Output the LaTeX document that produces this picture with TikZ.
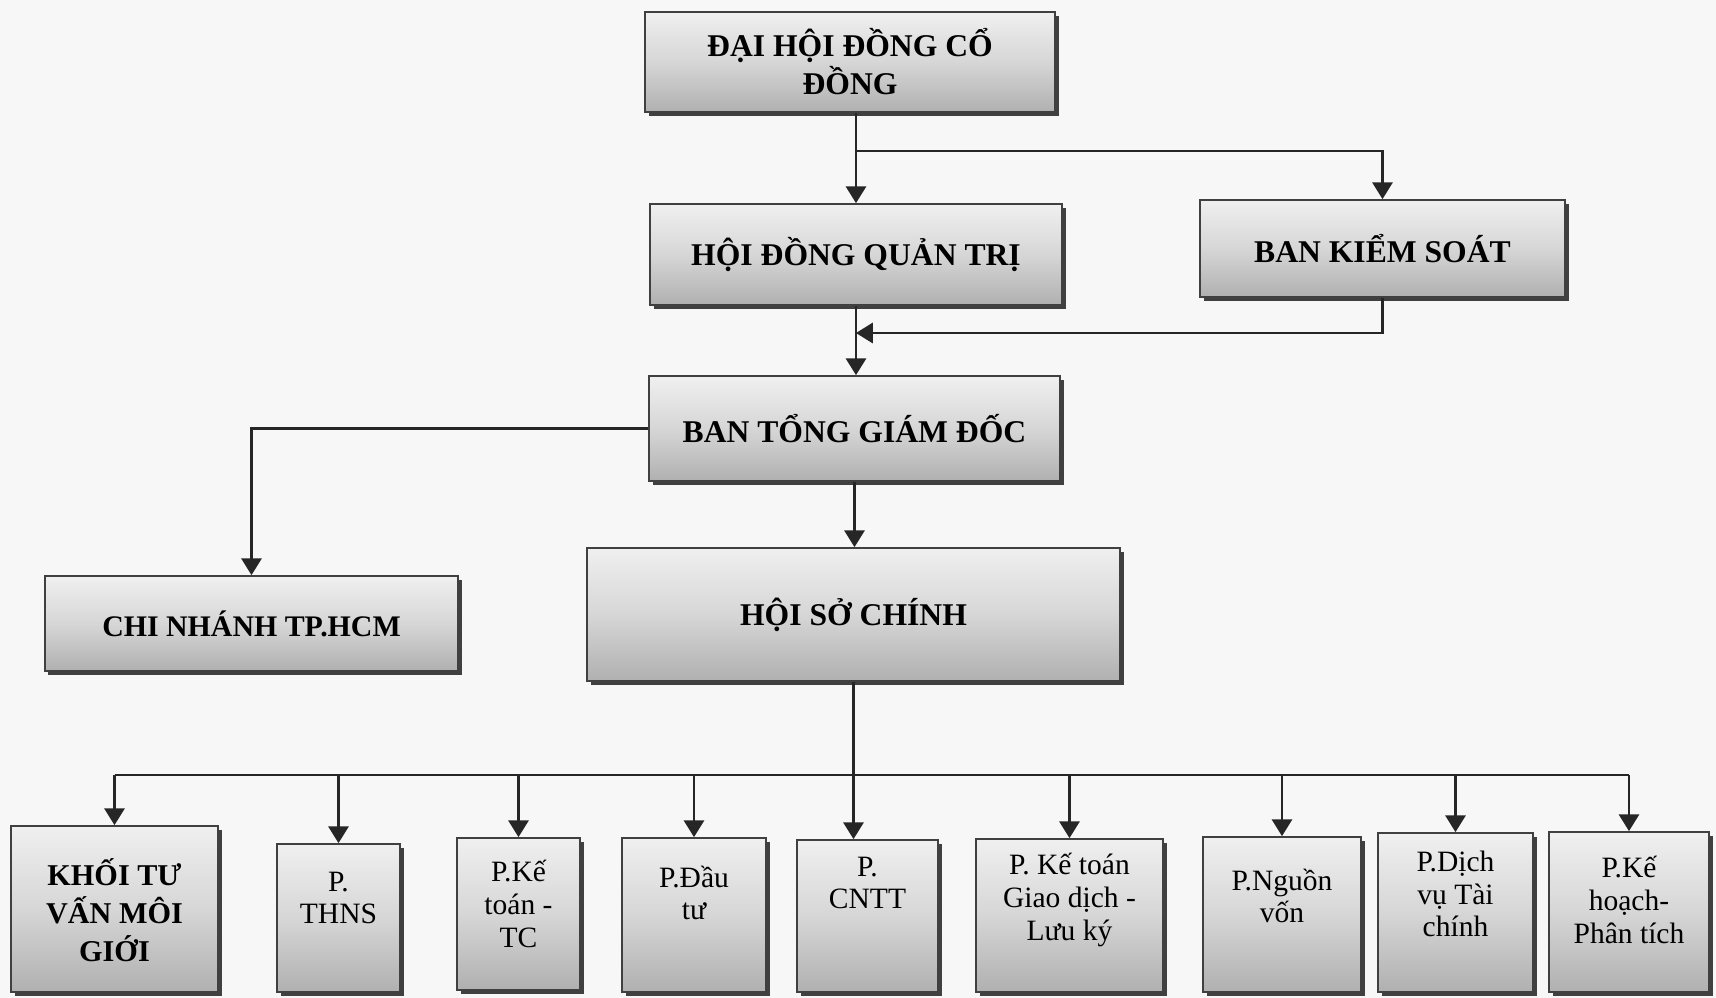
\documentclass[tikz,border=0pt]{standalone}
\usepackage{fontspec}
\setmainfont{Liberation Serif}
\usetikzlibrary{arrows.meta,shadows}

\begin{document}
\begin{tikzpicture}[
    unit/.style={rectangle, draw=black!75, line width=0.5pt, top color=gray!12, bottom color=gray!62, middle color=gray!32, drop shadow={shadow xshift=0.035cm, shadow yshift=-0.035cm, fill=black!75, opacity=1}, align=center, inner sep=0pt, font=\bfseries\fontsize{9}{8.5}\selectfont},
    dept/.style={unit},
    dtext/.style={align=center, inner sep=0pt, font=\fontsize{8.4}{9.3}\selectfont},
    link/.style={line width=0.6pt, black!85},
    arrow/.style={link, -{Triangle[width=5.8pt,length=4.8pt]}}
  ]
    \useasboundingbox (0,0) rectangle (17.16,-9.98);
    \fill[gray!6] (0,0) rectangle (17.16,-9.98);

    % Top level
    \node[unit, minimum width=4.10cm, minimum height=1.00cm] (dhdcd) at (8.50,-0.62) {ĐẠI HỘI ĐỒNG CỔ\\ĐỒNG};

    % Board and supervisors
    \node[unit, minimum width=4.12cm, minimum height=1.01cm] (hdqt) at (8.56,-2.545) {HỘI ĐỒNG QUẢN TRỊ};
    \node[unit, minimum width=3.65cm, minimum height=0.97cm] (bks) at (13.825,-2.485) {BAN KIỂM SOÁT};

    % Management
    \node[unit, minimum width=4.11cm, minimum height=1.05cm] (btgd) at (8.545,-4.285) {BAN TỔNG GIÁM ĐỐC};
    \node[unit, minimum width=4.13cm, minimum height=0.95cm, font=\bfseries\fontsize{8.5}{9}\selectfont] (cn) at (2.515,-6.235) {CHI NHÁNH TP.HCM};
    \node[unit, minimum width=5.33cm, minimum height=1.33cm] (hsc) at (8.535,-6.145) {HỘI SỞ CHÍNH};

    % Departments
    \node[dept, minimum width=2.07cm, minimum height=1.66cm] (khoi) at (1.145,-9.09) {};
    \node[dept, minimum width=1.23cm, minimum height=1.48cm] (thns) at (3.385,-9.18) {};
    \node[dept, minimum width=1.23cm, minimum height=1.52cm] (kttc) at (5.185,-9.14) {};
    \node[dept, minimum width=1.44cm, minimum height=1.54cm] (dt) at (6.94,-9.15) {};
    \node[dept, minimum width=1.41cm, minimum height=1.52cm] (cntt) at (8.675,-9.16) {};
    \node[dept, minimum width=1.87cm, minimum height=1.53cm] (ktgd) at (10.695,-9.155) {};
    \node[dept, minimum width=1.58cm, minimum height=1.55cm] (nv) at (12.82,-9.145) {};
    \node[dept, minimum width=1.55cm, minimum height=1.59cm] (dv) at (14.555,-9.125) {};
    \node[dept, minimum width=1.60cm, minimum height=1.60cm] (kh) at (16.29,-9.12) {};

    % Department names
    \node[dtext, font=\bfseries\fontsize{8.6}{10.8}\selectfont] (khoi-t) at ([yshift=-0.01cm]khoi.center) {KHỐI TƯ\\VẤN MÔI\\GIỚI};
    \node[dtext] (thns-t) at ([yshift=0.20cm]thns.center) {P.\\THNS};
    \node[dtext] (kttc-t) at ([yshift=0.10cm]kttc.center) {P.Kế\\toán -\\TC};
    \node[dtext] (dt-t) at ([yshift=0.22cm]dt.center) {P.Đầu\\tư};
    \node[dtext] (cntt-t) at ([yshift=0.33cm]cntt.center) {P.\\CNTT};
    \node[dtext] (ktgd-t) at ([yshift=0.155cm]ktgd.center) {P. Kế toán\\Giao dịch -\\Lưu ký};
    \node[dtext] (nv-t) at ([yshift=0.185cm]nv.center) {P.Nguồn\\vốn};
    \node[dtext] (dv-t) at ([yshift=0.185cm]dv.center) {P.Dịch\\vụ Tài\\chính};
    \node[dtext] (kh-t) at ([yshift=0.12cm]kh.center) {P.Kế\\hoạch-\\Phân tích};

    % Junctions
    \coordinate (fork) at (8.56,-1.51);
    \coordinate (join) at (8.56,-3.33);
    \coordinate (bus) at (0,-7.75);

    % Arrows
    \draw[arrow] (hdqt.north |- dhdcd.south) -- (hdqt.north);
    \draw[arrow] (fork) -| (bks.north);
    \draw[arrow] (hdqt.south) -- (hdqt.south |- btgd.north);
    \draw[arrow] (bks.south) |- (join);
    \draw[arrow] (btgd.west) -| (cn.north);
    \draw[arrow] (btgd.south) -- (btgd.south |- hsc.north);
    \draw[arrow] (hsc.south) -- (hsc.south |- cntt.north);
    \draw[link] (khoi.north |- bus) -- (kh.north |- bus);
    \draw[arrow] (khoi.north |- bus) -- (khoi.north);
    \draw[arrow] (thns.north |- bus) -- (thns.north);
    \draw[arrow] (kttc.north |- bus) -- (kttc.north);
    \draw[arrow] (dt.north |- bus) -- (dt.north);
    \draw[arrow] (ktgd.north |- bus) -- (ktgd.north);
    \draw[arrow] (nv.north |- bus) -- (nv.north);
    \draw[arrow] (dv.north |- bus) -- (dv.north);
    \draw[arrow] (kh.north |- bus) -- (kh.north);
\end{tikzpicture}
\end{document}
